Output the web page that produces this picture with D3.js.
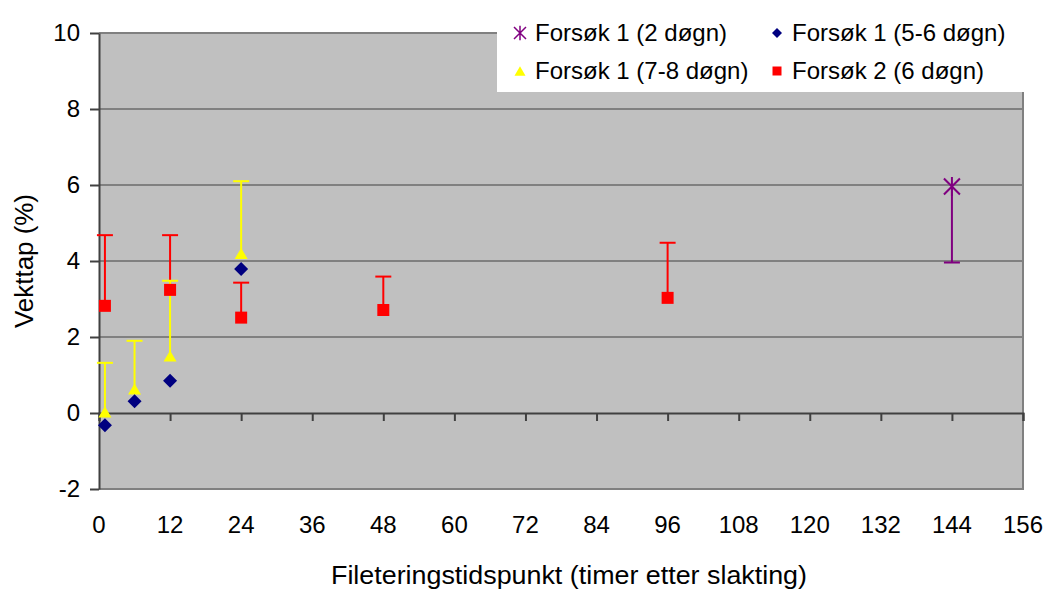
<!DOCTYPE html>
<html>
<head>
<meta charset="utf-8">
<script src="https://cdn.jsdelivr.net/npm/d3@7"></script>
<style>
  body { margin: 0; background: #fff; }
  text { font-family: "Liberation Sans", Arial, sans-serif; fill: #000; }
</style>
</head>
<body>
<svg id="chart"></svg>
<script>
// Series names (legend)
const seriesNames = ["Forsøk 1 (2 døgn)", "Forsøk 1 (5-6 døgn)", "Forsøk 1 (7-8 døgn)", "Forsøk 2 (6 døgn)"];

// Forsøk 1 (2 døgn) - purple star, error bar downwards
const hours2d = [144];
const loss2d = [5.96];
const errMinus2d = [2.0];

// Forsøk 1 (5-6 døgn) - blue diamonds, no error bars
const hours56d = [1, 6, 12, 24];
const loss56d = [-0.32, 0.31, 0.85, 3.79];

// Forsøk 1 (7-8 døgn) - yellow triangles, error bars upwards
const hours78d = [1, 6, 12, 24];
const loss78d = [0.03, 0.63, 1.5, 4.2];
const errPlus78d = [1.29, 1.27, 1.98, 1.9];

// Forsøk 2 (6 døgn) - red squares, error bars upwards
const hoursF2 = [1, 12, 24, 48, 96];
const lossF2 = [2.82, 3.24, 2.51, 2.71, 3.03];
const errPlusF2 = [1.86, 1.44, 0.92, 0.88, 1.45];

// Tick values
const xTicks = d3.range(0, 157, 12);
const yTicks = [-2, 0, 2, 4, 6, 8, 10];

const width = 1047;
const height = 593;
const marginTop = 33;
const marginRight = 24;
const marginBottom = 104;
const marginLeft = 99;

const svg = d3.select("#chart")
    .attr("width", width)
    .attr("height", height)
    .attr("viewBox", [0, 0, width, height]);

const x = d3.scaleLinear()
    .domain([0, 156])
    .range([marginLeft, width - marginRight]);

const y = d3.scaleLinear()
    .domain([-2, 10])
    .range([height - marginBottom, marginTop]);

// Plot background
svg.append("rect")
    .attr("x", x(0))
    .attr("y", y(10))
    .attr("width", x(156) - x(0))
    .attr("height", y(-2) - y(10))
    .attr("fill", "#c0c0c0");

// Horizontal gridlines
svg.append("g")
    .selectAll("line")
    .data(yTicks.filter(d => d !== 0 && d !== -2))
    .join("line")
      .attr("x1", x(0))
      .attr("x2", x(156))
      .attr("y1", d => y(d))
      .attr("y2", d => y(d))
      .attr("stroke", "#808080")
      .attr("stroke-width", 2);

// Plot border (right and bottom)
svg.append("path")
    .attr("d", `M${x(156)},${y(10)}V${y(-2)}H${x(0)}`)
    .attr("fill", "none")
    .attr("stroke", "#808080")
    .attr("stroke-width", 2);

// X axis at y = 0, labels below plot
svg.append("g")
    .attr("transform", `translate(0,${y(0)})`)
    .call(d3.axisBottom(x).tickValues(xTicks).tickSize(8).tickFormat(""))
    .call(g => g.select(".domain").attr("stroke", "#404040").attr("stroke-width", 2))
    .call(g => g.selectAll(".tick line").attr("stroke", "#404040").attr("stroke-width", 2));

svg.append("g")
    .selectAll("text")
    .data(xTicks)
    .join("text")
      .attr("x", d => x(d))
      .attr("y", 533)
      .attr("text-anchor", "middle")
      .style("font-size", "24px")
      .text(d => d);

// Y axis
svg.append("g")
    .attr("transform", `translate(${marginLeft},0)`)
    .call(d3.axisLeft(y).tickValues(yTicks).tickSize(9).tickPadding(10).tickSizeOuter(0)
        .tickFormat(d => String(d)))
    .call(g => g.select(".domain").attr("stroke", "#404040").attr("stroke-width", 2))
    .call(g => g.selectAll(".tick line").attr("stroke", "#404040").attr("stroke-width", 2))
    .call(g => g.selectAll(".tick text")
        .style("font-size", "24px")
        .style("font-family", "Liberation Sans, Arial, sans-serif")
        .attr("fill", "#000"));

// Axis titles
svg.append("text")
    .attr("x", 569)
    .attr("y", 584)
    .attr("text-anchor", "middle")
    .attr("textLength", 476)
    .attr("lengthAdjust", "spacingAndGlyphs")
    .style("font-size", "25px")
    .text("Fileteringstidspunkt (timer etter slakting)");

svg.append("text")
    .attr("transform", `translate(33,${(y(10) + y(-2)) / 2}) rotate(-90)`)
    .attr("text-anchor", "middle")
    .attr("textLength", 134)
    .attr("lengthAdjust", "spacingAndGlyphs")
    .style("font-size", "25px")
    .text("Vekttap (%)");

// Error bars helper
function errorBars(hours, values, errs, sign, color) {
    const g = svg.append("g")
        .attr("stroke", color)
        .attr("stroke-width", 2)
        .attr("fill", "none");
    g.selectAll("line.stem")
      .data(hours)
      .join("line")
        .attr("class", "stem")
        .attr("x1", d => x(d))
        .attr("x2", d => x(d))
        .attr("y1", (d, i) => y(values[i]))
        .attr("y2", (d, i) => y(values[i] + sign * errs[i]));
    g.selectAll("line.cap")
      .data(hours)
      .join("line")
        .attr("class", "cap")
        .attr("x1", d => x(d) - 8)
        .attr("x2", d => x(d) + 8)
        .attr("y1", (d, i) => y(values[i] + sign * errs[i]))
        .attr("y2", (d, i) => y(values[i] + sign * errs[i]));
}

errorBars(hoursF2, lossF2, errPlusF2, 1, "#ff0000");
errorBars(hours78d, loss78d, errPlus78d, 1, "#ffff00");
errorBars(hours2d, loss2d, errMinus2d, -1, "#800080");

// Marker shapes
const diamond = s => `M0,${-s}L${s},0L0,${s}L${-s},0Z`;
const triangle = s => `M0,${-s * 0.85}L${s},${s * 0.85}L${-s},${s * 0.85}Z`;
const square = s => `M${-s},${-s}H${s}V${s}H${-s}Z`;
const star = s => `M${-s},${-s}L${s},${s}M${s},${-s}L${-s},${s}M0,${-s * 1.2}V${s * 1.2}`;

// Markers
svg.append("g")
    .selectAll("path")
    .data(hoursF2)
    .join("path")
      .attr("transform", (d, i) => `translate(${x(d)},${y(lossF2[i])})`)
      .attr("d", square(6))
      .attr("fill", "#ff0000");

svg.append("g")
    .selectAll("path")
    .data(hours78d)
    .join("path")
      .attr("transform", (d, i) => `translate(${x(d)},${y(loss78d[i])})`)
      .attr("d", triangle(6.5))
      .attr("fill", "#ffff00");

svg.append("g")
    .selectAll("path")
    .data(hours56d)
    .join("path")
      .attr("transform", (d, i) => `translate(${x(d)},${y(loss56d[i])})`)
      .attr("d", diamond(7))
      .attr("fill", "#000080");

svg.append("g")
    .selectAll("path")
    .data(hours2d)
    .join("path")
      .attr("transform", (d, i) => `translate(${x(d)},${y(loss2d[i])})`)
      .attr("d", star(8))
      .attr("fill", "none")
      .attr("stroke", "#800080")
      .attr("stroke-width", 2);

// Legend
const legend = svg.append("g");
legend.append("rect")
    .attr("x", 497)
    .attr("y", 0)
    .attr("width", width - 497)
    .attr("height", 92)
    .attr("fill", "#fff");

const legendItems = [
    { name: seriesNames[0], col: 0, row: 0, shape: star(6), fill: "none", stroke: "#800080" },
    { name: seriesNames[1], col: 1, row: 0, shape: diamond(5), fill: "#000080", stroke: "none" },
    { name: seriesNames[2], col: 0, row: 1, shape: triangle(5.5), fill: "#ffff00", stroke: "none" },
    { name: seriesNames[3], col: 1, row: 1, shape: square(4.5), fill: "#ff0000", stroke: "none" }
];
const legendColX = [520, 777];
const legendRowY = [33, 71];

const items = legend.selectAll("g.item")
    .data(legendItems)
    .join("g")
      .attr("class", "item")
      .attr("transform", d => `translate(${legendColX[d.col]},${legendRowY[d.row]})`);

items.append("path")
    .attr("d", d => d.shape)
    .attr("fill", d => d.fill)
    .attr("stroke", d => d.stroke)
    .attr("stroke-width", 1.5);

items.append("text")
    .attr("x", 15)
    .attr("dy", "0.35em")
    .style("font-size", "24px")
    .text(d => d.name);
</script>
</body>
</html>
